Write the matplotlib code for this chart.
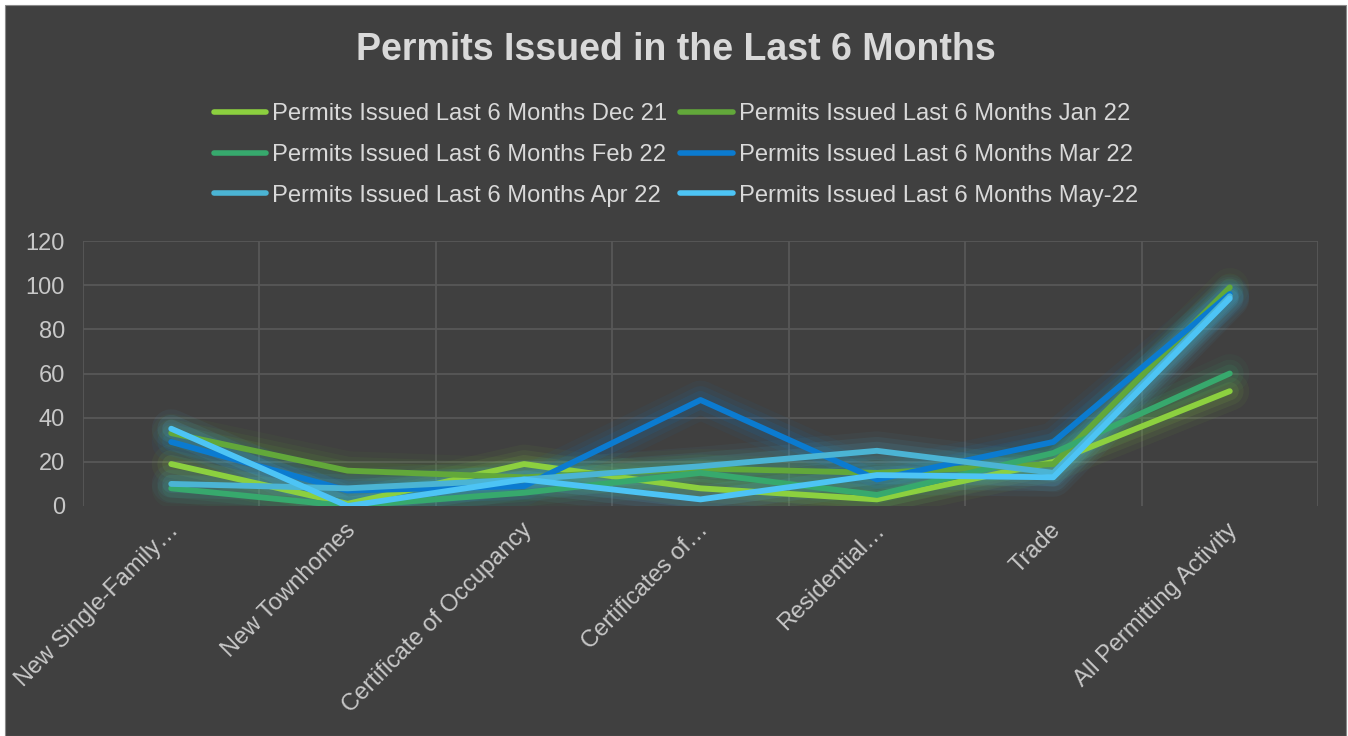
import numpy as np
import matplotlib
matplotlib.use("Agg")
import matplotlib.pyplot as plt
from matplotlib.patches import Rectangle

# Datos
categorias = ["New Single-Family…", "New Townhomes", "Certificate of Occupancy",
              "Certificates of…", "Residential…", "Trade", "All Permitting Activity"]

series_nombres = ["Permits Issued Last 6 Months Dec 21",
                  "Permits Issued Last 6 Months Jan 22",
                  "Permits Issued Last 6 Months Feb 22",
                  "Permits Issued Last 6 Months Mar 22",
                  "Permits Issued Last 6 Months Apr 22",
                  "Permits Issued Last 6 Months May-22"]

dic_21 = [19, 1, 19, 8, 3, 20, 52]
ene_22 = [33, 16, 13, 17, 15, 19, 99]
feb_22 = [8, 0, 6, 15, 5, 24, 60]
mar_22 = [29, 7, 9, 48, 12, 29, 96]
abr_22 = [10, 8, 12, 18, 25, 15, 95]
may_22 = [35, 0, 12, 3, 14, 13, 94]

y_ticks = [0, 20, 40, 60, 80, 100, 120]

colores = ["#8CD03F", "#62A83A", "#37A96D", "#0B7BD0", "#4BB4D4", "#4DC4F5"]

fondo = "#404040"
texto = "#D9D9D9"
etiquetas = "#C8C8C8"
plt.rcParams['font.family'] = ['Liberation Sans', 'DejaVu Sans']

fig = plt.figure(figsize=(13.48, 7.36), dpi=100)
fig.patch.set_facecolor("white")
# Panel oscuro del gráfico
fig.patches.append(Rectangle((5 / 1348, 0), 1341 / 1348, 731 / 736,
                             transform=fig.transFigure, facecolor=fondo,
                             edgecolor="#8a8a8a", linewidth=0.8, zorder=-10))

ax = fig.add_axes([83 / 1348, 1 - 506 / 736, (1318 - 83) / 1348, (506 - 241) / 736])
ax.set_facecolor(fondo)

x = np.arange(len(categorias))
datos = [dic_21, ene_22, feb_22, mar_22, abr_22, may_22]

# Resplandor (glow) de cada serie
for serie, color in zip(datos, colores):
    for ancho, alfa in [(28, 0.05), (20, 0.08), (13, 0.11)]:
        ax.plot(x, serie, color=color, linewidth=ancho, alpha=alfa,
                solid_capstyle='round', solid_joinstyle='round', zorder=2)

lineas = []
for serie, color, nombre in zip(datos, colores, series_nombres):
    l, = ax.plot(x, serie, color=color, linewidth=4.2, label=nombre,
                 solid_capstyle='round', solid_joinstyle='round', zorder=3)
    lineas.append(l)

ax.set_xlim(-0.5, len(categorias) - 0.5)
ax.set_ylim(0, 120)
ax.set_yticks(y_ticks)
ax.set_xticks(np.arange(-0.5, len(categorias), 1.0))
ax.set_xticklabels([])
ax.tick_params(axis='both', length=0, colors=etiquetas, labelsize=17)
ax.tick_params(axis='y', pad=13)
ax.grid(True, color="#585858", linewidth=1.3, zorder=1)
ax.set_axisbelow(True)
ax.get_ygridlines()[0].set_visible(False)
for s in ax.spines.values():
    s.set_visible(False)

# Etiquetas de categoría rotadas
for i, cat in enumerate(categorias):
    ax.text(i - 0.02, -0.05, cat, transform=ax.get_xaxis_transform(),
            rotation=45, rotation_mode='anchor', ha='right', va='top',
            fontsize=17, color=etiquetas)

fig.text(0.5015, 1 - 50 / 736, "Permits Issued in the Last 6 Months",
         ha='center', va='center', fontsize=27, fontweight='bold', color=texto)

# leyenda por filas, como en Excel
orden = [0, 2, 4, 1, 3, 5]
leg = fig.legend(handles=[lineas[k] for k in orden], loc='center', ncol=2,
                 bbox_to_anchor=(0.5015, 1 - 155 / 736), frameon=False,
                 fontsize=17.1, handlelength=2.2, handletextpad=0.25,
                 columnspacing=0.55, labelspacing=0.78)
for t in leg.get_texts():
    t.set_color(texto)
for h in leg.get_lines():
    h.set_linewidth(4)

fig.savefig("out.png", dpi=100, facecolor=fig.get_facecolor())
